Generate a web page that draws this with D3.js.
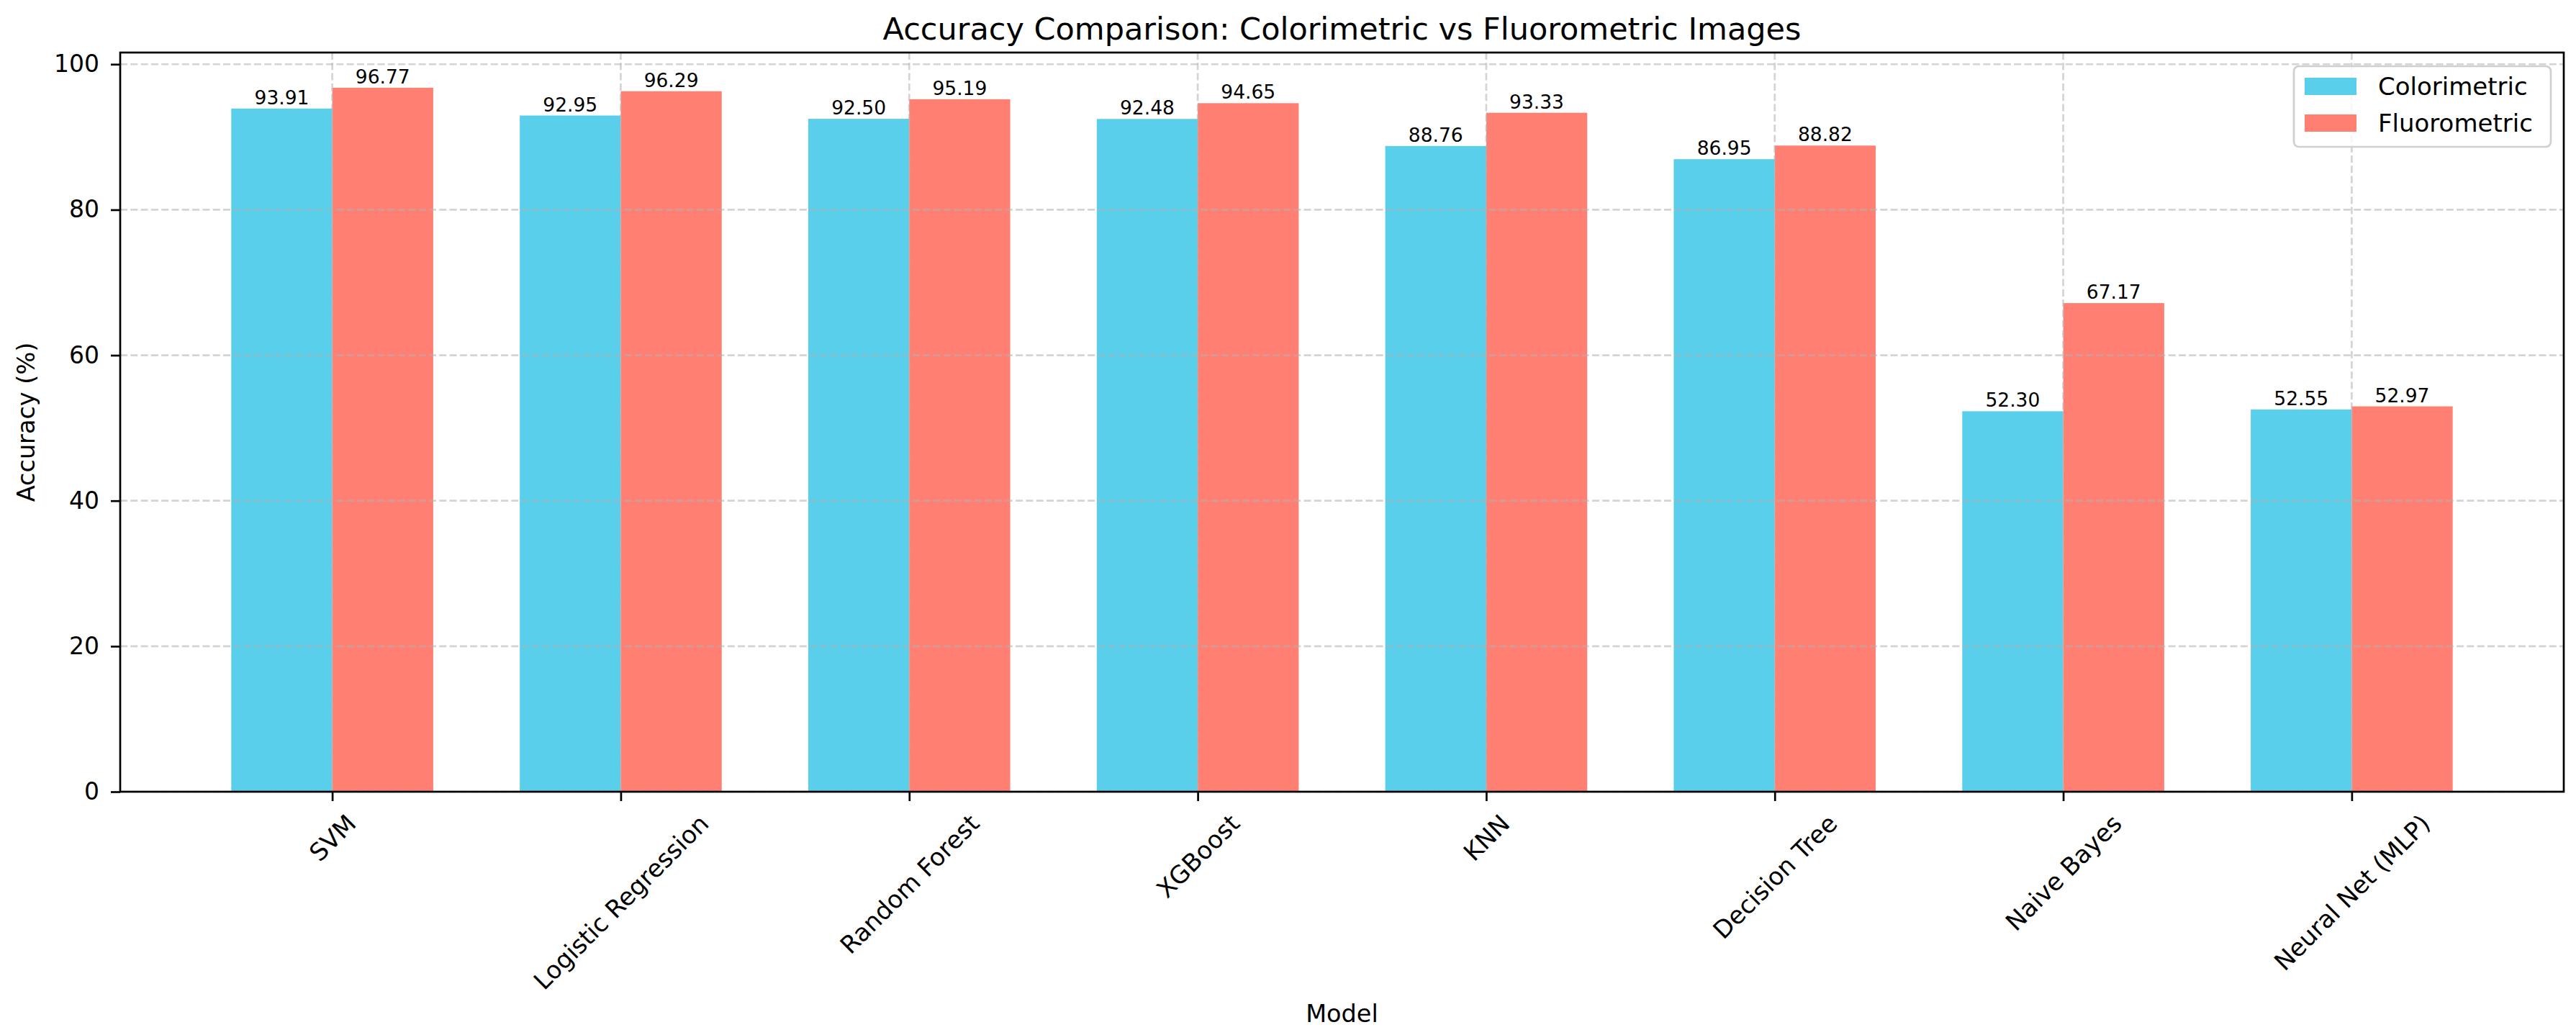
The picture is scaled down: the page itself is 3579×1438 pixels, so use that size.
<!DOCTYPE html>
<html lang="en">
<head>
<meta charset="utf-8">
<title>Accuracy Comparison: Colorimetric vs Fluorometric Images</title>
<script src="https://cdn.jsdelivr.net/npm/d3@7"></script>
<style>
  body { margin: 0; background: #fff; }
  text { font-family: "DejaVu Sans", sans-serif; fill: #000; }
</style>
</head>
<body>
<script>
// DATA
var models = ["SVM", "Logistic Regression", "Random Forest", "XGBoost", "KNN",
              "Decision Tree", "Naive Bayes", "Neural Net (MLP)"];
var colorimetric = [93.91, 92.95, 92.50, 92.48, 88.76, 86.95, 52.30, 52.55];
var fluorometric = [96.77, 96.29, 95.19, 94.65, 93.33, 88.82, 67.17, 52.97];
var seriesNames = ["Colorimetric", "Fluorometric"];
var seriesColors = ["#5acfeb", "#ff8072"];
var yTicks = [0, 20, 40, 60, 80, 100];

// SIZE  (note: "top" is a reserved window property, so use plot* names)
var w = 3579, h = 1438;
var plotL = 167, plotR = 3562, plotT = 73, plotB = 1100;
var barW = 0.35;
var n = models.length;

var svg = d3.select("body").append("svg")
    .attr("width", w)
    .attr("height", h);

// SCALES (matplotlib style 5% margins)
var xpad = 0.05 * ((n - 1) + 2 * barW);
var x = d3.scaleLinear()
    .domain([-barW - xpad, n - 1 + barW + xpad])
    .range([plotL, plotR]);
var ymax = d3.max(colorimetric.concat(fluorometric)) * 1.05;
var y = d3.scaleLinear()
    .domain([0, ymax])
    .range([plotB, plotT]);

// BARS
var series = [colorimetric, fluorometric];
series.forEach(function(vals, s) {
  var off = s === 0 ? -barW / 2 : barW / 2;
  svg.append("g").selectAll("rect")
    .data(vals)
    .enter()
    .append("rect")
    .attr("x", function(d, i) { return x(i + off - barW / 2); })
    .attr("y", function(d) { return y(d); })
    .attr("width", x(barW) - x(0))
    .attr("height", function(d) { return y(0) - y(d); })
    .attr("fill", seriesColors[s]);
});

// GRID (drawn over the bars, like the original)
var grid = svg.append("g")
    .attr("stroke", "#b0b0b0")
    .attr("stroke-opacity", 0.55)
    .attr("stroke-width", 2.7)
    .attr("stroke-dasharray", "10,4.3");
grid.selectAll("line.h")
  .data(yTicks)
  .enter()
  .append("line")
  .attr("x1", plotL).attr("x2", plotR)
  .attr("y1", function(d) { return y(d); })
  .attr("y2", function(d) { return y(d); });
grid.selectAll("line.v")
  .data(models)
  .enter()
  .append("line")
  .attr("x1", function(d, i) { return x(i); })
  .attr("x2", function(d, i) { return x(i); })
  .attr("y1", plotT).attr("y2", plotB);

// VALUE LABELS
series.forEach(function(vals, s) {
  var off = s === 0 ? -barW / 2 : barW / 2;
  svg.append("g").selectAll("text")
    .data(vals)
    .enter()
    .append("text")
    .attr("x", function(d, i) { return x(i + off); })
    .attr("y", function(d) { return y(d) - 6; })
    .attr("text-anchor", "middle")
    .attr("font-size", "26.5px")
    .text(function(d) { return d.toFixed(2); });
});

// AXES
var yAxis = svg.append("g")
    .attr("transform", "translate(" + plotL + ",0)")
    .call(d3.axisLeft(y).tickValues(yTicks).tickSize(13).tickPadding(16).tickFormat(d3.format("d")));
var xAxis = svg.append("g")
    .attr("transform", "translate(0," + plotB + ")")
    .call(d3.axisBottom(x).tickValues(d3.range(n)).tickSize(13)
          .tickFormat(function(i) { return models[i]; }));

[yAxis, xAxis].forEach(function(ax) {
  ax.select(".domain").remove();
  ax.selectAll(".tick line").attr("stroke", "#000").attr("stroke-width", 2.7);
  ax.selectAll(".tick text")
    .attr("font-family", "DejaVu Sans, sans-serif")
    .attr("font-size", "33px")
    .attr("fill", "#000");
});

// rotate x tick labels 45deg, centred on the tick with the box top below it
var fs = 34;
xAxis.selectAll(".tick text").attr("font-size", fs + "px").each(function() {
  var t = d3.select(this);
  var tw = this.getComputedTextLength();
  var side = (tw + fs * 1.164) / Math.SQRT2;
  t.attr("y", 0).attr("dy", "0.35em")
   .attr("text-anchor", "middle")
   .attr("transform", "translate(0," + (24 + side / 2) + ") rotate(-45)");
});

// FRAME
svg.append("rect")
  .attr("x", plotL).attr("y", plotT)
  .attr("width", plotR - plotL).attr("height", plotB - plotT)
  .attr("fill", "none")
  .attr("stroke", "#000")
  .attr("stroke-width", 2.7);

// TITLES
svg.append("text")
  .attr("x", (plotL + plotR) / 2).attr("y", 55)
  .attr("text-anchor", "middle")
  .attr("font-size", "43px")
  .text("Accuracy Comparison: Colorimetric vs Fluorometric Images");
svg.append("text")
  .attr("x", (plotL + plotR) / 2).attr("y", 1420)
  .attr("text-anchor", "middle")
  .attr("font-size", "33.5px")
  .text("Model");
svg.append("text")
  .attr("transform", "translate(48," + (plotT + plotB) / 2 + ") rotate(-90)")
  .attr("text-anchor", "middle")
  .attr("font-size", "33.5px")
  .text("Accuracy (%)");

// LEGEND
var lg = svg.append("g").attr("transform", "translate(" + (plotR - 375) + "," + (plotT + 19) + ")");
lg.append("rect")
  .attr("x", 0).attr("y", 0)
  .attr("width", 357).attr("height", 112)
  .attr("rx", 7)
  .attr("fill", "#fff").attr("fill-opacity", 0.8)
  .attr("stroke", "#d0d0d0").attr("stroke-width", 2.7);
lg.selectAll("rect.key")
  .data(seriesNames)
  .enter()
  .append("rect")
  .attr("x", 15)
  .attr("y", function(d, i) { return 16 + i * 51; })
  .attr("width", 72).attr("height", 24)
  .attr("fill", function(d, i) { return seriesColors[i]; });
lg.selectAll("text")
  .data(seriesNames)
  .enter()
  .append("text")
  .attr("x", 117)
  .attr("y", function(d, i) { return 40 + i * 51; })
  .attr("font-size", "34px")
  .text(function(d) { return d; });
</script>
</body>
</html>
